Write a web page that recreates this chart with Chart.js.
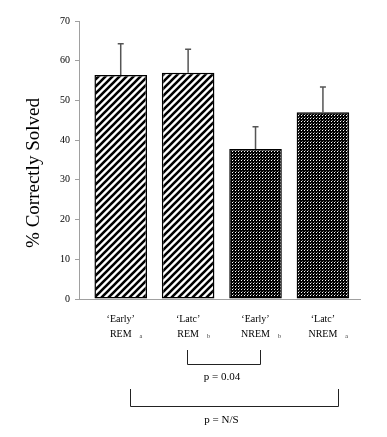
<!DOCTYPE html>
<html><head><meta charset="utf-8">
<script src="https://cdn.jsdelivr.net/npm/chart.js@4"></script>
<style>html,body{margin:0;padding:0;background:#fff;}</style>
</head><body>
<canvas id="c" width="387" height="437"></canvas>
<script>
// ---- data ----
const categoriesTop = ["\u2018Early\u2019", "\u2018Latc\u2019", "\u2018Early\u2019", "\u2018Latc\u2019"];
const categoriesBottom = ["REM", "REM", "NREM", "NREM"];
const groupLetters = ["a", "b", "b", "a"];
const meanValues = [56.4, 57.0, 37.8, 47.0];
const errorValues = [7.9, 5.9, 5.6, 6.4];
const yTicks = [0, 10, 20, 30, 40, 50, 60, 70];
const comparisonFrom = [1, 0];
const comparisonTo = [2, 3];
const comparisonLabels = ["p = 0.04", "p = N/S"];
const yTitle = "% Correctly Solved";

// ---- styles ----
const SERIF = '"Liberation Serif", "Times New Roman", serif';
function stripePattern() {
  const s = 7, c = document.createElement('canvas'); c.width = c.height = s;
  const g = c.getContext('2d');
  g.fillStyle = '#fff'; g.fillRect(0, 0, s, s);
  g.strokeStyle = '#000'; g.lineWidth = 2.6;
  g.beginPath();
  g.moveTo(-1, s + 1); g.lineTo(s + 1, -1);
  g.moveTo(-2, 2); g.lineTo(2, -2);
  g.moveTo(s - 2, s + 2); g.lineTo(s + 2, s - 2);
  g.stroke();
  return g.createPattern(c, 'repeat');
}
function dotPattern() {
  const c = document.createElement('canvas'); c.width = 3; c.height = 3;
  const g = c.getContext('2d');
  g.fillStyle = '#000'; g.fillRect(0, 0, 3, 3);
  g.fillStyle = '#fff'; g.fillRect(1, 1, 1, 1);
  g.fillStyle = '#777'; g.fillRect(2, 0, 1, 1);
  return g.createPattern(c, 'repeat');
}
const stripes = stripePattern(), dots = dotPattern();
const fills = [stripes, stripes, dots, dots];

// bracket layout (pixel rows, end offsets in category units, text shift)
const bracketLayout = [
  { top: 350, bottom: 364, offFrom: -0.01, offTo: 0.07, textY: 377, textDX: -2 },
  { top: 389, bottom: 406, offFrom: 0.14, offTo: 0.23, textY: 420, textDX: -13 }
];

const extras = {
  id: 'extras',
  afterDatasetsDraw(chart) {
    const ctx = chart.ctx, xs = chart.scales.x, ys = chart.scales.y;
    ctx.save();
    // error bars
    ctx.strokeStyle = '#555'; ctx.lineWidth = 1.5;
    meanValues.forEach((v, i) => {
      const x = xs.getPixelForValue(i);
      const y0 = ys.getPixelForValue(v), y1 = ys.getPixelForValue(v + errorValues[i]);
      ctx.beginPath(); ctx.moveTo(x, y0); ctx.lineTo(x, y1);
      ctx.moveTo(x - 3, y1); ctx.lineTo(x + 3, y1); ctx.stroke();
    });
    // subscripts
    ctx.fillStyle = '#333';
    const baseY = xs.top + 12 + 15 * 1.5 + 4;
    groupLetters.forEach((L, i) => {
      ctx.font = '10px ' + SERIF;
      const w = ctx.measureText(categoriesBottom[i]).width;
      ctx.font = '6px ' + SERIF;
      ctx.textAlign = 'left'; ctx.textBaseline = 'alphabetic';
      ctx.fillText(L, xs.getPixelForValue(i) + w / 2 + 8, baseY);
    });
    // brackets
    ctx.strokeStyle = '#222'; ctx.lineWidth = 1;
    ctx.fillStyle = '#000'; ctx.font = '11px ' + SERIF;
    ctx.textAlign = 'center'; ctx.textBaseline = 'middle';
    comparisonLabels.forEach((lab, k) => {
      const L = bracketLayout[k];
      const x1 = Math.round(xs.getPixelForValue(comparisonFrom[k] + L.offFrom)) + 0.5;
      const x2 = Math.round(xs.getPixelForValue(comparisonTo[k] + L.offTo)) + 0.5;
      ctx.beginPath();
      ctx.moveTo(x1, L.top); ctx.lineTo(x1, L.bottom + 0.5); ctx.lineTo(x2, L.bottom + 0.5); ctx.lineTo(x2, L.top);
      ctx.stroke();
      ctx.fillText(lab, (x1 + x2) / 2 + L.textDX, L.textY);
    });
    // y title
    ctx.save();
    ctx.translate(34, 173); ctx.rotate(-Math.PI / 2);
    ctx.font = '19px ' + SERIF; ctx.fillStyle = '#000';
    ctx.textAlign = 'center'; ctx.textBaseline = 'middle';
    ctx.fillText(yTitle, 0, 0);
    ctx.restore();
    ctx.restore();
  }
};

new Chart(document.getElementById('c'), {
  type: 'bar',
  data: {
    datasets: [{
      data: meanValues.map((v, i) => ({ x: i, y: v })),
      backgroundColor: fills,
      borderColor: '#000',
      borderWidth: 1.5,
      borderSkipped: false,
      barPercentage: 0.78,
      categoryPercentage: 1
    }]
  },
  options: {
    responsive: false, animation: false, devicePixelRatio: 1,
    layout: { padding: { top: 21, right: 27, bottom: 0, left: 0 } },
    plugins: { legend: { display: false }, tooltip: { enabled: false } },
    scales: {
      x: {
        type: 'linear', min: -0.619, max: 3.55, offset: false,
        afterBuildTicks: s => { s.ticks = meanValues.map((_, i) => ({ value: i })); },
        ticks: {
          callback: v => [categoriesTop[v], categoriesBottom[v]],
          font: { family: SERIF, size: 10, lineHeight: 1.5 }, color: '#000',
          padding: 13, maxRotation: 0, autoSkip: false
        },
        grid: { display: false, drawTicks: false, offset: false },
        border: { display: true, color: '#a0a0a0', width: 1 },
        afterFit: s => { s.height = 138; }
      },
      y: {
        min: 0, max: 70,
        afterBuildTicks: s => { s.ticks = yTicks.map(v => ({ value: v })); },
        ticks: { font: { family: SERIF, size: 10 }, color: '#000', padding: 5 },
        grid: { drawOnChartArea: false, drawTicks: true, tickLength: 4, color: '#a0a0a0' },
        border: { color: '#a0a0a0', width: 1 },
        afterFit: s => { s.width = 79; }
      }
    }
  },
  plugins: [extras]
});
</script>
</body></html>
